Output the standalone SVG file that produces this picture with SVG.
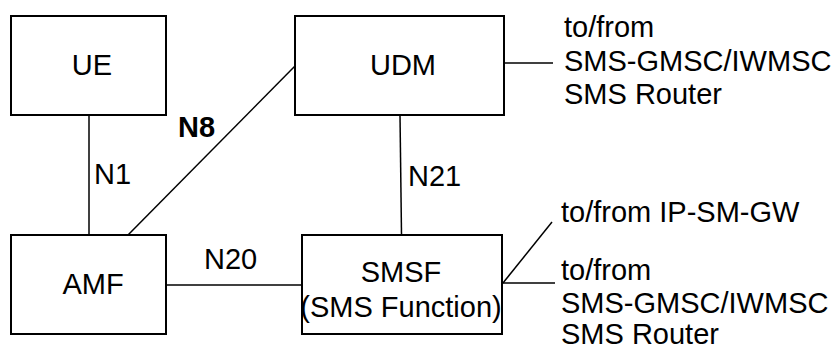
<svg xmlns="http://www.w3.org/2000/svg" width="836" height="351" viewBox="0 0 836 351">
<style>
.box{fill:#fff;stroke:#000;stroke-width:2}
.ln{stroke:#000;stroke-width:1.5;fill:none}
text{font-family:"Liberation Sans",Arial,sans-serif;font-size:29px;fill:#000}
.c{text-anchor:middle}
.b{font-weight:bold}
</style>
<rect width="836" height="351" fill="#fff"/>
<g id="connectors">
<line class="ln" x1="89" y1="115" x2="89" y2="235"/>
<line class="ln" x1="128" y1="235" x2="295" y2="66"/>
<line class="ln" x1="400" y1="115" x2="401.5" y2="235"/>
<line class="ln" x1="166" y1="285" x2="302" y2="285"/>
<line class="ln" x1="504" y1="63" x2="553" y2="63"/>
<line class="ln" x1="503" y1="283" x2="555" y2="283"/>
<line class="ln" x1="503" y1="283" x2="552" y2="222"/>
<text x="94" y="184">N1</text>
<text x="178" y="137" class="b">N8</text>
<text x="408" y="186">N21</text>
<text x="204" y="269">N20</text>
<text x="564" y="37">to/from</text>
<text x="564" y="71">SMS-GMSC/IWMSC</text>
<text x="564" y="104">SMS Router</text>
<text x="561" y="222">to/from IP-SM-GW</text>
<text x="561" y="280">to/from</text>
<text x="561" y="313">SMS-GMSC/IWMSC</text>
<text x="561" y="344">SMS Router</text>
</g>
<g id="UE">
<rect class="box" x="11" y="16" width="155" height="99"/>
<text x="92" y="75" class="c">UE</text>
</g>
<g id="UDM">
<rect class="box" x="295" y="16" width="209" height="99"/>
<text x="403" y="75" class="c">UDM</text>
</g>
<g id="AMF">
<rect class="box" x="11" y="235" width="155" height="99"/>
<text x="93" y="294" class="c">AMF</text>
</g>
<g id="SMSF">
<rect class="box" x="302" y="235" width="200" height="99"/>
<text x="401" y="282" class="c">SMSF</text>
<text x="401" y="317" class="c">(SMS Function)</text>
</g>
</svg>
